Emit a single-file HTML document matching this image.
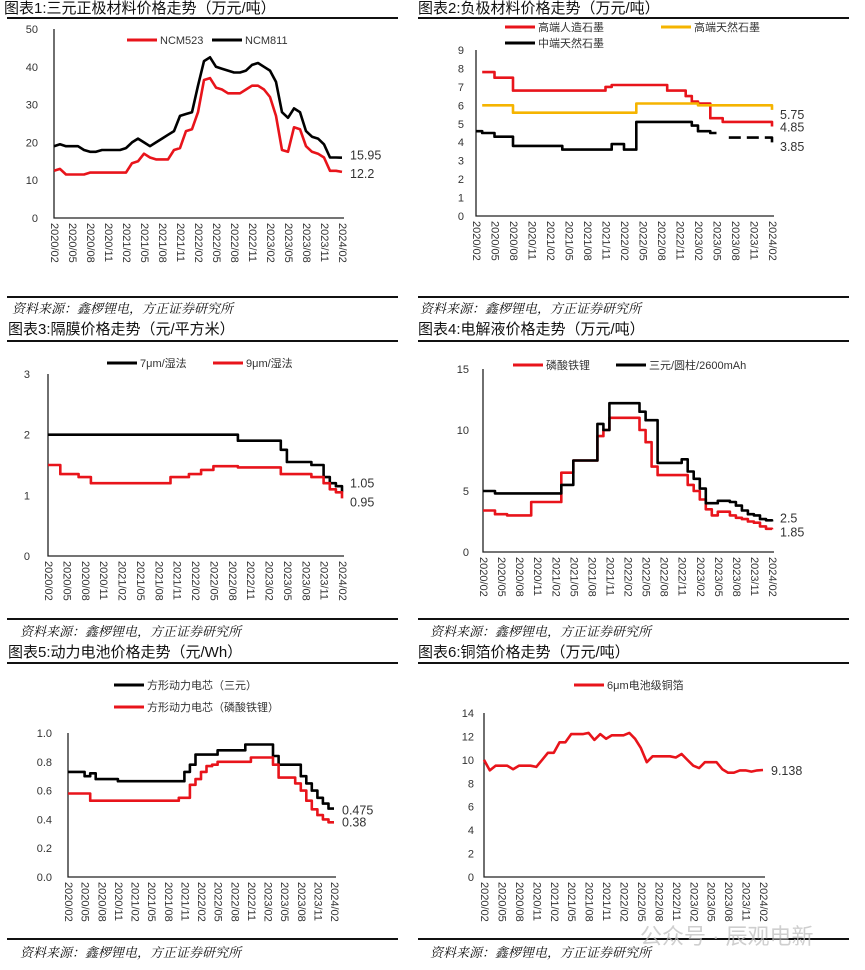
<!DOCTYPE html>
<html><head><meta charset="utf-8">
<style>
html,body{margin:0;padding:0;background:#fff;}
svg{display:block;}
.t{font-family:"Liberation Sans","Noto Sans CJK SC",sans-serif;font-size:15px;fill:#111;}
.src{font-family:"Liberation Serif","Noto Serif CJK SC",serif;font-size:13px;font-style:italic;fill:#111;}
.tk{font-family:"Liberation Sans","Noto Sans CJK SC",sans-serif;font-size:11px;fill:#333;}
.lg{font-family:"Liberation Sans","Noto Sans CJK SC",sans-serif;font-size:11px;fill:#333;}
.vl{font-family:"Liberation Sans","Noto Sans CJK SC",sans-serif;font-size:12.5px;fill:#333;}
</style></head>
<body>
<svg id="page" width="865" height="970" viewBox="0 0 865 970" xmlns="http://www.w3.org/2000/svg">
<g id="static">
<text class="t" x="4" y="13">图表1:三元正极材料价格走势（万元/吨）</text>
<text class="t" x="418" y="13">图表2:负极材料价格走势（万元/吨）</text>
<rect x="7" y="17" width="391" height="2" fill="#111"/>
<rect x="418" y="17" width="431" height="2" fill="#111"/>
<rect x="7" y="296" width="391" height="2" fill="#111"/>
<rect x="418" y="296" width="431" height="2" fill="#111"/>
<text class="src" x="12" y="313">资料来源：鑫椤锂电，方正证券研究所</text>
<text class="src" x="420" y="313">资料来源：鑫椤锂电，方正证券研究所</text>
<text class="t" x="8" y="334">图表3:隔膜价格走势（元/平方米）</text>
<text class="t" x="418" y="334">图表4:电解液价格走势（万元/吨）</text>
<rect x="7" y="340" width="391" height="2" fill="#111"/>
<rect x="418" y="340" width="431" height="2" fill="#111"/>
<rect x="7" y="618" width="391" height="2" fill="#111"/>
<rect x="418" y="618" width="431" height="2" fill="#111"/>
<text class="src" x="20" y="636">资料来源：鑫椤锂电，方正证券研究所</text>
<text class="src" x="430" y="636">资料来源：鑫椤锂电，方正证券研究所</text>
<text class="t" x="8" y="657">图表5:动力电池价格走势（元/Wh）</text>
<text class="t" x="418" y="657">图表6:铜箔价格走势（万元/吨）</text>
<rect x="7" y="662" width="391" height="2" fill="#111"/>
<rect x="418" y="662" width="431" height="2" fill="#111"/>
<rect x="7" y="938" width="391" height="2" fill="#111"/>
<rect x="418" y="938" width="431" height="2" fill="#111"/>
<text class="src" x="20" y="957">资料来源：鑫椤锂电，方正证券研究所</text>
<text class="src" x="430" y="957">资料来源：鑫椤锂电，方正证券研究所</text>
<text x="640" y="944" font-family="Liberation Sans,Noto Sans CJK SC,sans-serif" font-size="22" fill="#bbb" opacity="0.7">公众号 · 辰观电新</text>
</g>
<g id="charts"></g>
</svg>
<script>
// x-axis categories (shared, month index 0 = 2020/02)
const xTicks = ["2020/02","2020/05","2020/08","2020/11","2021/02","2021/05","2021/08","2021/11","2022/02","2022/05","2022/08","2022/11","2023/02","2023/05","2023/08","2023/11","2024/02"];

// Chart 1 data
const c1YTicks = [0,10,20,30,40,50];
const c1Ncm811 = [19,19.5,19,19,19,18,17.5,17.5,18,18,18,18,18.5,20,21,20,19,20,21,22,23,27,27.5,28,35,41.5,42.5,40,39.5,39,38.5,38.5,39,40.5,41,40,39,36,28,26.5,29,28,23,21.5,21,19.5,16,16,15.95];
const c1Ncm523 = [12.5,13,11.5,11.5,11.5,11.5,12,12,12,12,12,12,12,14.5,15,17,16,15.5,15.5,15.5,18,18.5,23,23.5,28,36.5,37,34.5,34,33,33,33,34,35,35,34,32,27,18,17.5,24,23.5,19,17.5,17,16,12.5,12.5,12.2];
const c1Labels = ["15.95","12.2"];

// Chart 2 data
const c2YTicks = [0,1,2,3,4,5,6,7,8,9];
const c2Art = [null,7.8,7.8,7.5,7.5,7.5,6.8,6.8,6.8,6.8,6.8,6.8,6.8,6.8,6.8,6.8,6.8,6.8,6.8,6.8,6.8,7.0,7.1,7.1,7.1,7.1,7.1,7.1,7.1,7.1,7.1,6.8,6.8,6.8,6.5,6.2,6.1,6.1,5.3,5.3,5.1,5.1,5.1,5.1,5.1,5.1,5.1,5.1,4.85];
const c2Nat = [null,6.0,6.0,6.0,6.0,6.0,5.6,5.6,5.6,5.6,5.6,5.6,5.6,5.6,5.6,5.6,5.6,5.6,5.6,5.6,5.6,5.6,5.6,5.6,5.6,5.6,6.1,6.1,6.1,6.1,6.1,6.1,6.1,6.1,6.1,6.1,6.0,6.0,6.0,6.0,6.0,6.0,6.0,6.0,6.0,6.0,6.0,6.0,5.75];
const c2Mid = [4.6,4.5,4.5,4.3,4.3,4.3,3.8,3.8,3.8,3.8,3.8,3.8,3.8,3.8,3.6,3.6,3.6,3.6,3.6,3.6,3.6,3.6,3.9,3.9,3.6,3.6,5.1,5.1,5.1,5.1,5.1,5.1,5.1,5.1,5.1,4.9,4.6,4.6,4.5,4.5,null,4.25,4.25,4.25,4.25,4.25,4.25,4.25,3.85];
const c2Labels = ["5.75","4.85","3.85"];

// Chart 3 data
const c3YTicks = [0,1,2,3];
const c3W7 = [2,2,2,2,2,2,2,2,2,2,2,2,2,2,2,2,2,2,2,2,2,2,2,2,2,2,2,2,2,2,2,1.9,1.9,1.9,1.9,1.9,1.9,1.9,1.75,1.55,1.55,1.55,1.55,1.5,1.5,1.3,1.2,1.15,1.05];
const c3W9 = [1.5,1.5,1.35,1.35,1.35,1.3,1.3,1.2,1.2,1.2,1.2,1.2,1.2,1.2,1.2,1.2,1.2,1.2,1.2,1.2,1.3,1.3,1.3,1.35,1.35,1.42,1.42,1.48,1.48,1.48,1.48,1.46,1.46,1.46,1.46,1.46,1.46,1.46,1.35,1.35,1.35,1.35,1.35,1.3,1.3,1.2,1.1,1.05,0.95];
const c3Labels = ["1.05","0.95"];

// Chart 4 data
const c4YTicks = [0,5,10,15];
const c4Lfp = [3.4,3.4,3.1,3.1,3.0,3.0,3.0,3.0,4.1,4.1,4.1,4.1,4.1,6.5,6.5,7.5,7.5,7.5,7.5,9.5,10,11,11,11,11,11,10,9,7,6.3,6.3,6.3,6.3,6.3,5.5,5.0,4.3,3.5,3.0,3.3,3.3,3.0,2.8,2.7,2.5,2.4,2.1,1.9,1.85];
const c4Ncm = [5.0,5.0,4.8,4.8,4.8,4.8,4.8,4.8,4.8,4.8,4.8,4.8,4.8,5.5,5.5,7.5,7.5,7.5,7.5,10.5,10,12.2,12.2,12.2,12.2,12.2,11.5,10.8,10.8,7.3,7.3,7.3,7.3,7.6,6.6,6.0,5.2,4.0,4.0,4.2,4.2,4.1,3.8,3.4,3.1,3.0,2.7,2.6,2.5];
const c4Labels = ["2.5","1.85"];

// Chart 5 data
const c5YTicks = [0,0.2,0.4,0.6,0.8,1.0];
const c5Ncm = [0.73,0.73,0.73,0.70,0.72,0.68,0.68,0.68,0.68,0.665,0.665,0.665,0.665,0.665,0.665,0.665,0.665,0.665,0.665,0.665,0.665,0.73,0.78,0.85,0.85,0.85,0.85,0.88,0.88,0.88,0.88,0.88,0.92,0.92,0.92,0.92,0.92,0.84,0.78,0.78,0.78,0.78,0.70,0.65,0.60,0.55,0.51,0.475,0.475];
const c5Lfp = [0.58,0.58,0.58,0.58,0.53,0.53,0.53,0.53,0.53,0.53,0.53,0.53,0.53,0.53,0.53,0.53,0.53,0.53,0.53,0.53,0.55,0.55,0.64,0.68,0.73,0.77,0.78,0.80,0.80,0.80,0.80,0.80,0.80,0.83,0.83,0.83,0.83,0.78,0.69,0.69,0.69,0.65,0.60,0.53,0.47,0.43,0.40,0.38,0.38];
const c5Labels = ["0.475","0.38"];

// Chart 6 data
const c6YTicks = [0,2,4,6,8,10,12,14];
const c6Cu = [10,9.1,9.5,9.5,9.5,9.2,9.5,9.5,9.5,9.4,10,10.6,10.6,11.5,11.5,12.2,12.2,12.2,12.3,11.7,12.2,11.8,12.1,12.1,12.1,12.3,11.8,11,9.8,10.3,10.3,10.3,10.3,10.2,10.5,10,9.5,9.3,9.8,9.8,9.8,9.2,8.9,8.9,9.1,9.1,9.0,9.1,9.138];
const c6Labels = ["9.138"];

const NS = "http://www.w3.org/2000/svg";
const root = document.getElementById("charts");
function mk(tag, attrs, parent){
  const e = document.createElementNS(NS, tag);
  for (const k in attrs) e.setAttribute(k, attrs[k]);
  (parent||root).appendChild(e);
  return e;
}

function chart(cfg){
  const g = mk("g", {});
  
  
  const ymax = cfg.yTicks[cfg.yTicks.length-1];
  const xs = m => cfg.x0 + (cfg.x1 - cfg.x0) * m / 48;
  const ys = v => cfg.y0 - (cfg.y0 - cfg.yTop) * v / ymax;
  const ax = mk("path", {d:`M${cfg.x0},${cfg.yTop} V${cfg.y0} H${cfg.x1+2}`, stroke:"#222", "stroke-width":1.3, fill:"none"}, g);
  
  
  cfg.yTicks.forEach(v => {
    const t = mk("text", {x: cfg.x0 - cfg.yOff, y: ys(v)+4, "text-anchor":"end", class:"tk"}, g);
    t.textContent = cfg.yFmt ? cfg.yFmt(v) : String(v);
    
    
  });
  xTicks.forEach((lab, i) => {
    const x = xs(i*3), y = cfg.y0 + 5;
    const t = mk("text", {x:x, y:y, class:"tk", transform:`rotate(90 ${x} ${y})`, "dominant-baseline":"central"}, g);
    t.textContent = lab;
    
    
  });
  cfg.series.forEach((s) => {
    const segs = [];
    let d = "", pen = false, started = false;
    s.data.forEach((v, m) => {
      if (v === null) { if (d) segs.push(d); d = ""; pen = false; return; }
      const x = xs(m), y = ys(v);
      if (!pen) { d += `M${x.toFixed(1)},${y.toFixed(1)}`; pen = true; }
      else if (cfg.step) { d += `H${x.toFixed(1)}V${y.toFixed(1)}`; }
      else { d += `L${x.toFixed(1)},${y.toFixed(1)}`; }
    });
    if (d) segs.push(d);
    segs.forEach((sd, k) => {
      const attrs = {d:sd, stroke:s.color, "stroke-width":2.6, fill:"none", "stroke-linejoin":"round"};
      if (k > 0 && s.dashAfterGap) attrs["stroke-dasharray"] = "12,6";
      const p = mk("path", attrs, g);
      
      
    });
    const lgLine = mk("line", {x1:s.lx, y1:s.ly, x2:s.lx+30, y2:s.ly, stroke:s.color, "stroke-width":3}, g);
    
    
    const lt = mk("text", {x:s.lx+33, y:s.ly+4, class:"lg"}, g);
    lt.textContent = s.label;
    
    
    if (s.end) {
      const last = s.data[s.data.length-1];
      const vt = mk("text", {x: cfg.x1 + 8, y: ys(last) + 4 + (s.dy||0), class:"vl"}, g);
      vt.textContent = s.end;
      
      
    }
  });
}

chart({name:"chart1-cathode", x0:54, x1:342, y0:218, yTop:29, yOff:16, yTicks:c1YTicks, step:false,
  series:[
    {key:"ncm523", label:"NCM523", data:c1Ncm523, color:"#e8141b", lx:127, ly:40, end:c1Labels[1], dy:2},
    {key:"ncm811", label:"NCM811", data:c1Ncm811, color:"#000", lx:212, ly:40, end:c1Labels[0], dy:-2}
  ]});
chart({name:"chart2-anode", x0:476, x1:772, y0:216, yTop:50, yOff:12, yTicks:c2YTicks, step:true,
  series:[
    {key:"artificial-graphite", label:"高端人造石墨", data:c2Art, color:"#e8141b", lx:505, ly:27, end:c2Labels[1], dy:1},
    {key:"natural-graphite", label:"高端天然石墨", data:c2Nat, color:"#f5b400", lx:661, ly:27, end:c2Labels[0], dy:5},
    {key:"mid-natural-graphite", label:"中端天然石墨", data:c2Mid, color:"#000", lx:505, ly:43, end:c2Labels[2], dy:2, dashAfterGap:true}
  ]});
chart({name:"chart3-separator", x0:48, x1:342, y0:556, yTop:374, yOff:18, yTicks:c3YTicks, step:true,
  series:[
    {key:"7um-wet", label:"7μm/湿法", data:c3W7, color:"#000", lx:107, ly:363, end:c3Labels[0], dy:-9},
    {key:"9um-wet", label:"9μm/湿法", data:c3W9, color:"#e8141b", lx:213, ly:363, end:c3Labels[1], dy:4}
  ]});
chart({name:"chart4-electrolyte", x0:483, x1:772, y0:552, yTop:369, yOff:14, yTicks:c4YTicks, step:true,
  series:[
    {key:"lfp-electrolyte", label:"磷酸铁锂", data:c4Lfp, color:"#e8141b", lx:513, ly:365, end:c4Labels[1], dy:3},
    {key:"ncm-electrolyte", label:"三元/圆柱/2600mAh", data:c4Ncm, color:"#000", lx:616, ly:365, end:c4Labels[0], dy:-3}
  ]});
chart({name:"chart5-cell", x0:68, x1:334, y0:877, yTop:733, yOff:16, yTicks:c5YTicks, step:true, yFmt:v=>v.toFixed(1),
  series:[
    {key:"ncm-cell", label:"方形动力电芯（三元）", data:c5Ncm, color:"#000", lx:114, ly:685, end:c5Labels[0], dy:2},
    {key:"lfp-cell", label:"方形动力电芯（磷酸铁锂）", data:c5Lfp, color:"#e8141b", lx:114, ly:707, end:c5Labels[1], dy:0}
  ]});
chart({name:"chart6-copper-foil", x0:484, x1:763, y0:877, yTop:713, yOff:10, yTicks:c6YTicks, step:false,
  series:[
    {key:"copper-foil", label:"6μm电池级铜箔", data:c6Cu, color:"#e8141b", lx:574, ly:685, end:c6Labels[0], dy:1}
  ]});
</script>
</body></html>
